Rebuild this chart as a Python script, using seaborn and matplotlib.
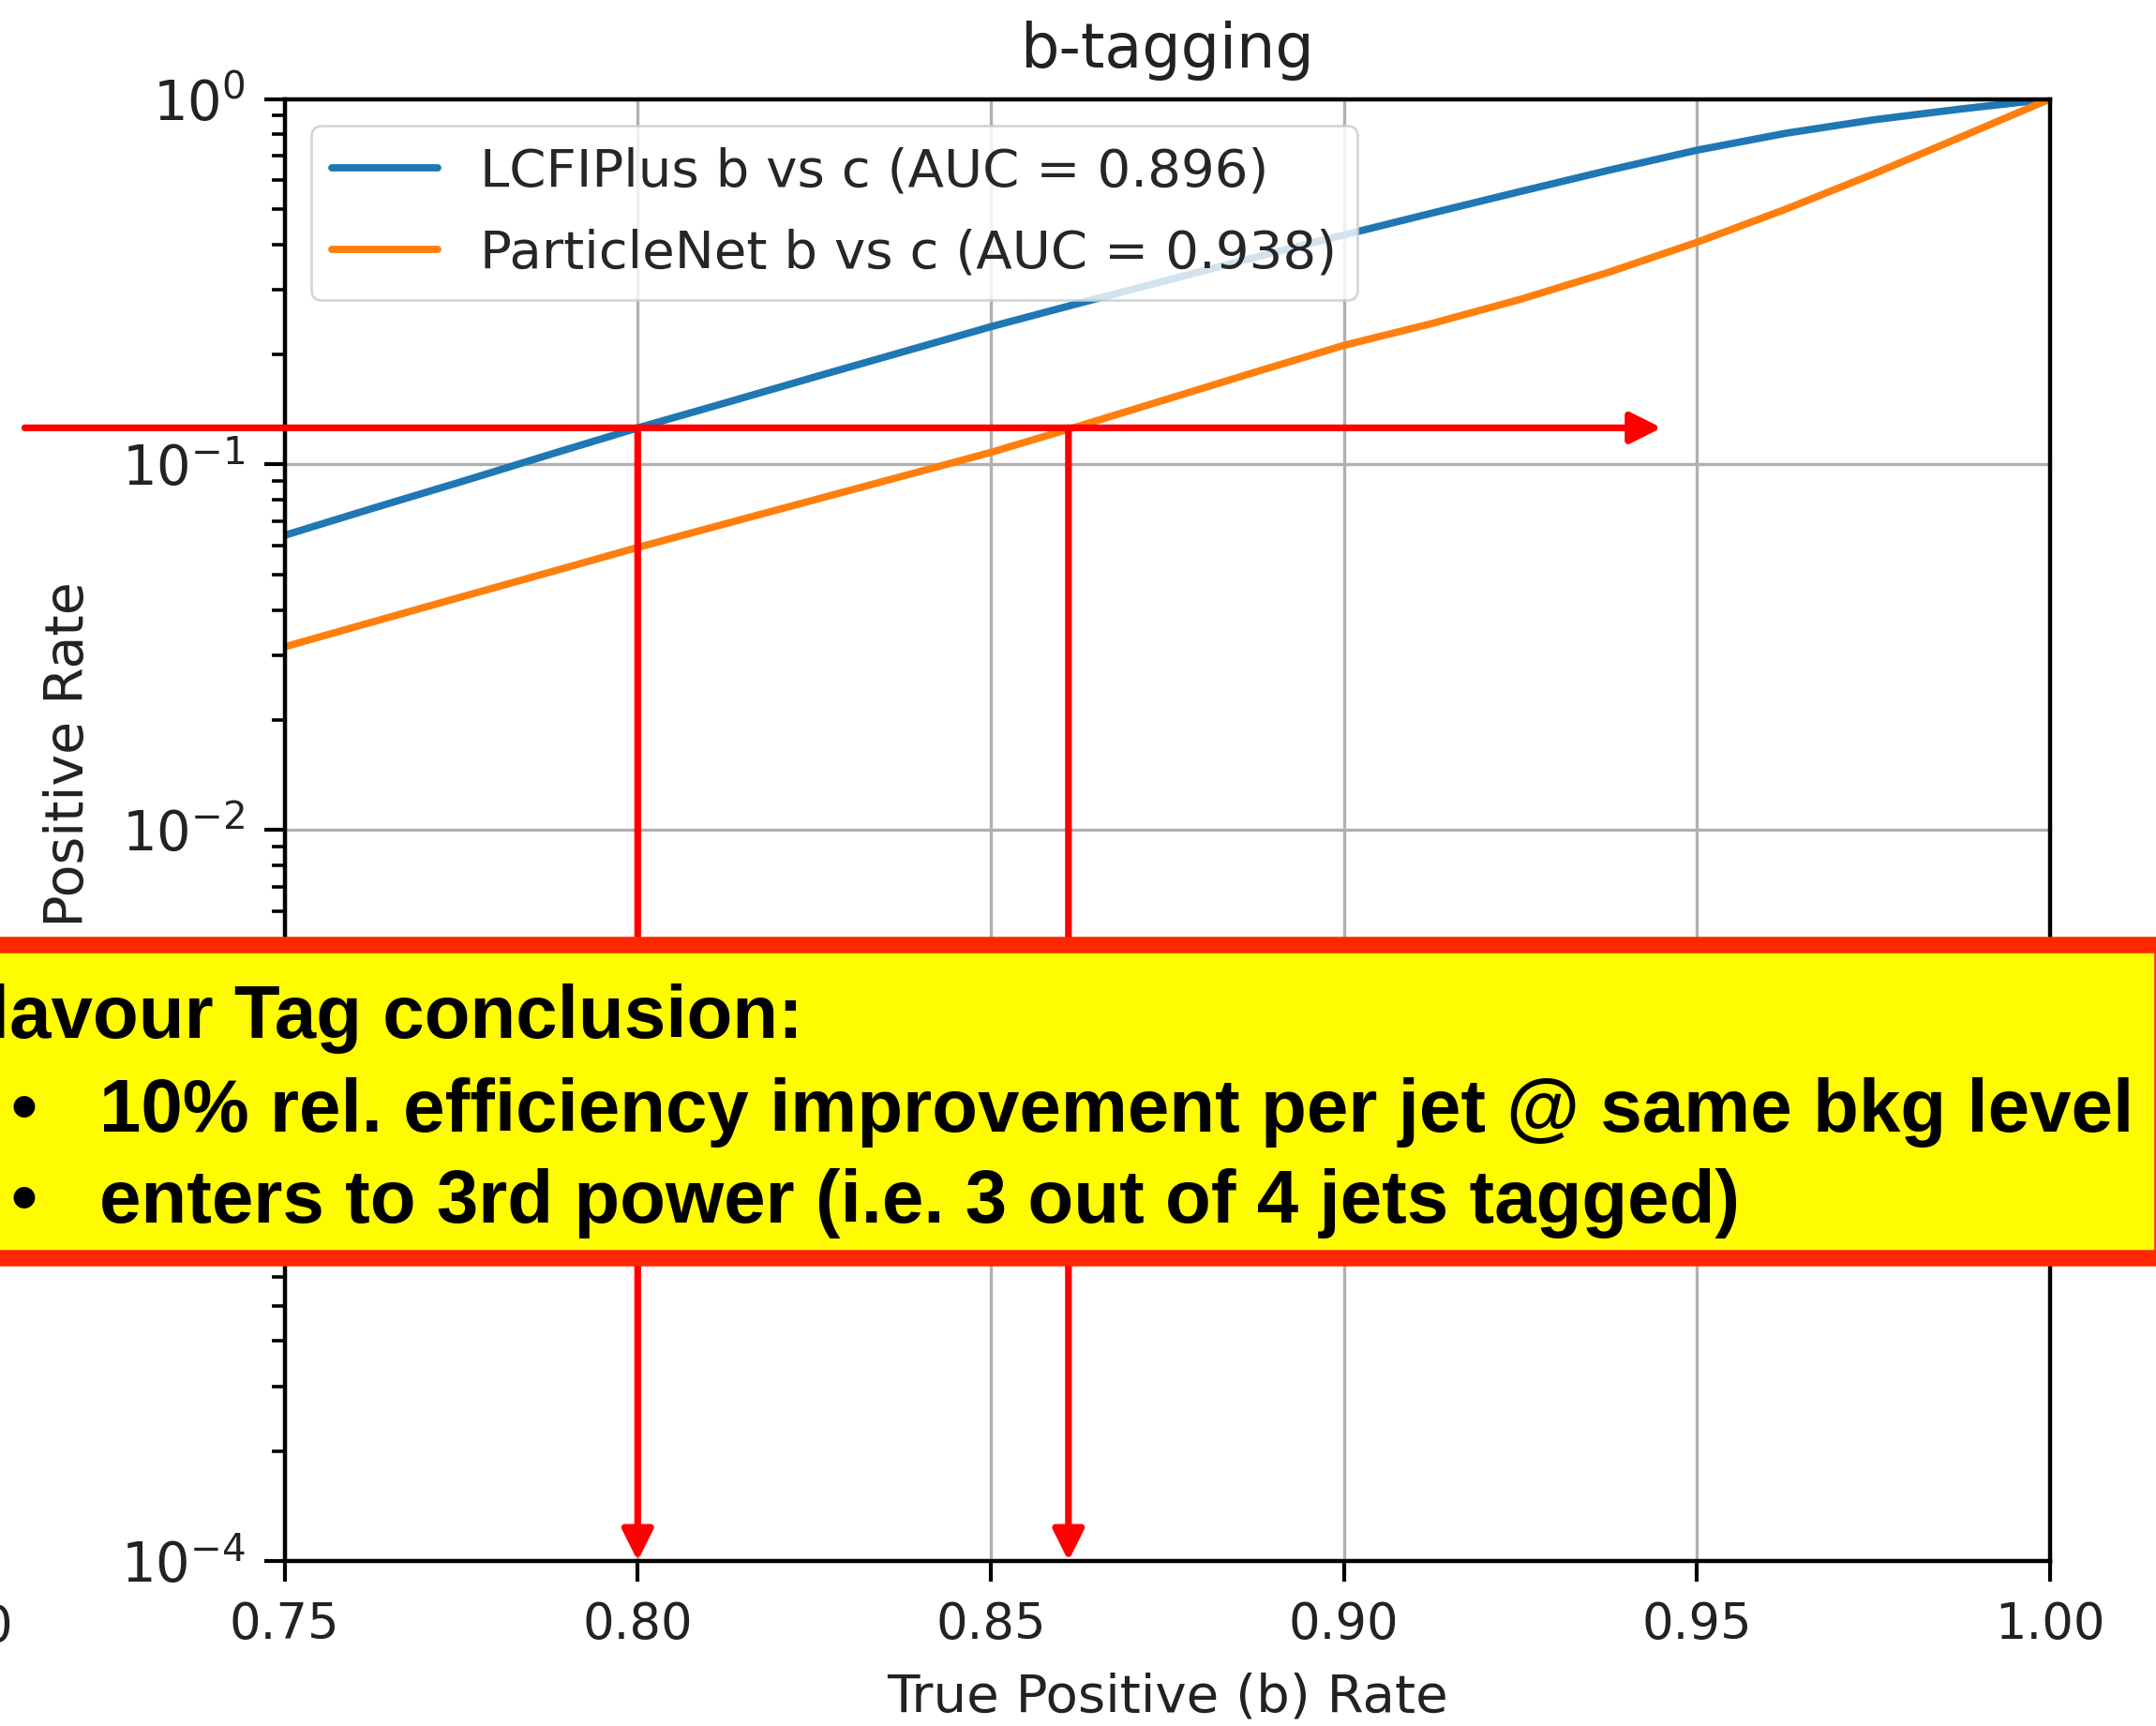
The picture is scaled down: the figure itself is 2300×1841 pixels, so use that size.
import numpy as np
import pandas as pd
import matplotlib
matplotlib.use("Agg")
import matplotlib.pyplot as plt
import matplotlib.patches as mpatches
import seaborn as sns

# ROC curves: true positive (b) rate vs false positive rate
tpr = [0.75, 0.7625, 0.775, 0.7875, 0.80, 0.8125, 0.825, 0.8375, 0.85, 0.8625,
       0.875, 0.8875, 0.90, 0.9125, 0.925, 0.9375, 0.95, 0.9625, 0.975, 0.9875, 1.0]
fpr_lcfiplus = [0.0640, 0.0759, 0.0897, 0.1064, 0.1259, 0.1476, 0.1734, 0.2032, 0.2382,
                0.2761, 0.3192, 0.3690, 0.4246, 0.4875, 0.5585, 0.6383, 0.7244, 0.8054,
                0.8770, 0.9397, 1.0]
fpr_particlenet = [0.0317, 0.0371, 0.0434, 0.0507, 0.0593, 0.0689, 0.0800, 0.0929, 0.1079,
                   0.1274, 0.1510, 0.1791, 0.2118, 0.2432, 0.2831, 0.3357, 0.4055, 0.4989,
                   0.6237, 0.7889, 1.0]
labels = ["LCFIPlus b vs c (AUC = 0.896)", "ParticleNet b vs c (AUC = 0.938)"]
colors = ["#1f77b4", "#ff7f0e"]
x_ticks = [0.75, 0.80, 0.85, 0.90, 0.95, 1.00]

# common background level and the b efficiency each tagger reaches there
wp_fpr = 0.126
wp_tpr = [0.80, 0.861]
arrow_x_start, arrow_x_end = 0.7132, 0.945

box_title = "Flavour Tag conclusion:"
box_bullets = ["10% rel. efficiency improvement per jet @ same bkg level",
               "enters to 3rd power (i.e. 3 out of 4 jets tagged)"]

df = pd.DataFrame({
    "TPR": tpr + tpr,
    "FPR": fpr_lcfiplus + fpr_particlenet,
    "tagger": [labels[0]] * len(tpr) + [labels[1]] * len(tpr),
})

sns.set_style("ticks")
plt.rcParams["font.family"] = ["DejaVu Sans"]
plt.rcParams["mathtext.fontset"] = "dejavusans"

W, H = 2300, 1841
fig = plt.figure(figsize=(W / 100, H / 100), dpi=100)
fig.patch.set_facecolor("white")
ax = fig.add_axes([303.6 / W, 1 - 1665 / H, (2187 - 303.6) / W, (1665 - 105.6) / H])

sns.lineplot(data=df, x="TPR", y="FPR", hue="tagger", palette=dict(zip(labels, colors)),
             sort=False, estimator=None, linewidth=5.6, ax=ax)

ax.set_yscale("log")
ax.set_xlim(0.75, 1.0)
ax.set_ylim(1e-4, 1.0)
ax.set_xticks(x_ticks)
ax.grid(True, which="major", color="#b0b0b0", linewidth=2.4)
ax.set_axisbelow(True)
for s in ax.spines.values():
    s.set_linewidth(3.2)
    s.set_color("black")
ax.tick_params(axis="both", which="major", length=16, width=3.0,
               color="black", labelcolor="#222222", pad=14)
ax.tick_params(axis="x", which="major", labelsize=38)
ax.tick_params(axis="y", which="major", labelsize=41.5)
ax.tick_params(axis="y", which="minor", length=10, width=2.6, color="black")
ax.tick_params(axis="x", which="minor", length=0)

ax.set_title("b-tagging", fontsize=47, pad=24, color="#222222")
ax.set_xlabel("True Positive (b) Rate", fontsize=40.5, labelpad=18, color="#222222")
ax.set_ylabel("False Positive Rate", fontsize=41, labelpad=20, color="#222222")

leg = ax.legend(loc="upper left", fontsize=40.5, frameon=True, fancybox=True,
                framealpha=0.8, edgecolor="0.8", borderaxespad=0.5, labelspacing=0.6)
leg.get_frame().set_linewidth(2.0)
for line in leg.get_lines():
    line.set_linewidth(5.6)

# red guide arrows at the common background level
arrow_kw = dict(arrowstyle="-|>,head_length=0.4,head_width=0.2", color="#ff0000",
                lw=5.2, mutation_scale=50, shrinkA=0, shrinkB=0)
ax.annotate("", xy=(arrow_x_end, wp_fpr), xytext=(arrow_x_start, wp_fpr),
            arrowprops=arrow_kw, annotation_clip=False)
for xv in wp_tpr:
    ax.annotate("", xy=(xv, 1e-4), xytext=(xv, wp_fpr),
                arrowprops=arrow_kw, annotation_clip=False)

# fragment of a neighbouring tick label at the left edge
fig.text(13.5 / W, 1 - 1736 / H, "0", fontsize=38, color="#222222",
         ha="right", va="center")

# conclusion box across the figure
box = mpatches.Rectangle((-20 / W, 1 - 1341.5 / H), (2307 + 20) / W, (1341.5 - 1008) / H,
                         transform=fig.transFigure, facecolor="#fffb00",
                         edgecolor="#ff2600", linewidth=12.6, zorder=5)
fig.patches.append(box)

box_font = dict(family=["Liberation Sans", "DejaVu Sans"], weight="bold",
                fontsize=57.5, color="black", va="baseline", zorder=6)
fig.text(-61 / W, 1 - 1107 / H, box_title, ha="left", **box_font)
for base_y, line in zip([1207, 1304], box_bullets):
    fig.text(25.5 / W, 1 - base_y / H, "\u2022", ha="center", **box_font)
    fig.text(106 / W, 1 - base_y / H, line, ha="left", **box_font)

fig.savefig("out.png", dpi=100, facecolor="white")
